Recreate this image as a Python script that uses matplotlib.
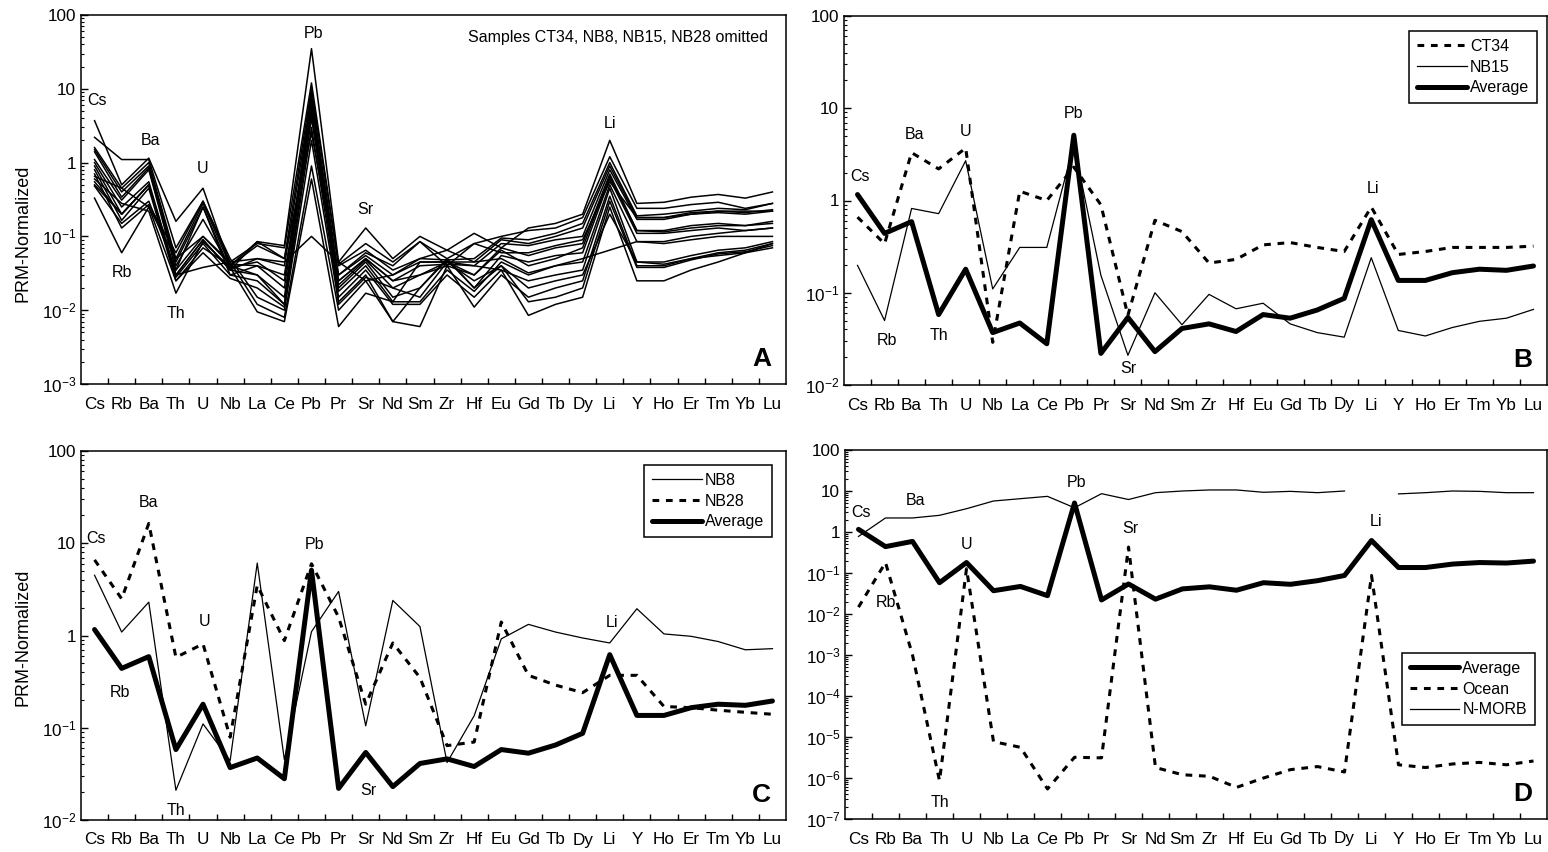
import numpy as np
import matplotlib
matplotlib.use('Agg')
import matplotlib.pyplot as plt
from matplotlib.ticker import LogLocator, FuncFormatter, NullFormatter, FixedLocator

plt.rcParams['font.family'] = ['Liberation Sans', 'DejaVu Sans']
plt.rcParams['mathtext.default'] = 'regular'

nan = np.nan
elements = ['Cs', 'Rb', 'Ba', 'Th', 'U', 'Nb', 'La', 'Ce', 'Pb', 'Pr', 'Sr', 'Nd', 'Sm',
            'Zr', 'Hf', 'Eu', 'Gd', 'Tb', 'Dy', 'Li', 'Y', 'Ho', 'Er', 'Tm', 'Yb', 'Lu']

# Panel A: individual samples (CT34, NB8, NB15, NB28 omitted)
a01 = [3.7, 0.50, 1.15, 0.16, 0.45, 0.040, 0.085, 0.075, 35, 0.045, 0.13, 0.050, 0.10, 0.065, 0.11, 0.070, 0.13, 0.15, 0.20, 2.0, 0.28, 0.29, 0.34, 0.37, 0.33, 0.40]
a02 = [2.2, 1.10, 1.10, 0.07, 0.30, 0.045, 0.080, 0.070, 12, 0.042, 0.080, 0.045, 0.085, 0.050, 0.080, 0.100, 0.12, 0.13, 0.18, 1.2, 0.24, 0.24, 0.27, 0.29, 0.24, 0.28]
a03 = [1.6, 0.45, 1.00, 0.05, 0.28, 0.040, 0.075, 0.050, 10, 0.040, 0.065, 0.035, 0.050, 0.048, 0.050, 0.095, 0.09, 0.11, 0.15, 1.0, 0.19, 0.20, 0.22, 0.24, 0.23, 0.28]
a04 = [1.5, 0.40, 0.90, 0.045, 0.25, 0.035, 0.050, 0.040, 8, 0.030, 0.055, 0.030, 0.045, 0.045, 0.045, 0.090, 0.08, 0.10, 0.13, 0.9, 0.18, 0.18, 0.21, 0.22, 0.21, 0.23]
a05 = [1.4, 0.34, 0.85, 0.040, 0.17, 0.038, 0.045, 0.025, 7, 0.025, 0.050, 0.025, 0.040, 0.042, 0.040, 0.080, 0.075, 0.09, 0.10, 0.8, 0.17, 0.17, 0.20, 0.21, 0.20, 0.22]
a06 = [1.1, 0.31, 0.80, 0.035, 0.10, 0.042, 0.040, 0.020, 6, 0.022, 0.048, 0.020, 0.030, 0.040, 0.030, 0.070, 0.055, 0.07, 0.08, 0.7, 0.12, 0.12, 0.14, 0.15, 0.14, 0.16]
a07 = [1.0, 0.25, 0.55, 0.030, 0.09, 0.035, 0.030, 0.015, 5, 0.020, 0.045, 0.015, 0.020, 0.048, 0.020, 0.055, 0.045, 0.055, 0.06, 0.6, 0.11, 0.11, 0.12, 0.13, 0.12, 0.13]
a08 = [0.9, 0.20, 0.50, 0.028, 0.08, 0.030, 0.025, 0.012, 4, 0.018, 0.040, 0.013, 0.013, 0.035, 0.018, 0.045, 0.030, 0.040, 0.045, 0.5, 0.085, 0.080, 0.09, 0.10, 0.10, 0.10]
a09 = [0.8, 0.165, 0.45, 0.025, 0.06, 0.027, 0.020, 0.011, 3, 0.015, 0.035, 0.012, 0.012, 0.030, 0.015, 0.035, 0.025, 0.030, 0.035, 0.45, 0.045, 0.045, 0.055, 0.065, 0.07, 0.085]
a10 = [0.7, 0.13, 0.27, 0.060, 0.30, 0.050, 0.015, 0.010, 2, 0.013, 0.030, 0.007, 0.006, 0.040, 0.011, 0.030, 0.015, 0.020, 0.025, 0.35, 0.040, 0.040, 0.050, 0.060, 0.065, 0.080]
a11 = [0.65, 0.45, 0.25, 0.050, 0.10, 0.045, 0.012, 0.008, 0.9, 0.010, 0.025, 0.007, 0.020, 0.050, 0.020, 0.040, 0.013, 0.015, 0.020, 0.30, 0.038, 0.038, 0.048, 0.058, 0.062, 0.075]
a12 = [0.6, 0.28, 0.22, 0.017, 0.085, 0.038, 0.0095, 0.007, 0.6, 0.006, 0.017, 0.013, 0.045, 0.045, 0.040, 0.035, 0.0085, 0.012, 0.015, 0.25, 0.025, 0.025, 0.035, 0.045, 0.060, 0.080]
a13 = [0.55, 0.20, 0.50, 0.030, 0.038, 0.045, 0.050, 0.045, 0.10, 0.045, 0.025, 0.030, 0.050, 0.065, 0.045, 0.050, 0.032, 0.040, 0.050, nan, 0.085, 0.085, 0.10, 0.11, 0.12, 0.13]
a14 = [0.5, 0.20, 0.50, 0.030, 0.09, 0.035, 0.085, 0.050, 2.5, 0.030, 0.060, 0.040, 0.085, 0.040, 0.080, 0.060, 0.060, 0.075, 0.09, 0.55, 0.18, 0.18, 0.20, 0.22, 0.22, 0.22]
a15 = [0.48, 0.15, 0.30, 0.035, 0.25, 0.030, 0.040, 0.030, 4.5, 0.025, 0.050, 0.025, 0.030, 0.045, 0.030, 0.065, 0.040, 0.050, 0.07, 0.65, 0.12, 0.115, 0.13, 0.14, 0.14, 0.15]
a16 = [0.33, 0.06, 0.25, 0.025, 0.07, 0.040, 0.030, 0.012, 9, 0.012, 0.028, 0.020, 0.015, 0.045, 0.025, 0.040, 0.020, 0.025, 0.03, 0.2, 0.045, 0.042, 0.050, 0.055, 0.060, 0.070]
panel_a_samples = [a01, a02, a03, a04, a05, a06, a07, a08, a09, a10, a11, a12, a13, a14, a15, a16]

average = [1.16, 0.44, 0.59, 0.058, 0.18, 0.037, 0.047, 0.028, 5.1, 0.022, 0.054, 0.023, 0.041, 0.046, 0.038, 0.058, 0.053, 0.065, 0.087, 0.62, 0.136, 0.136, 0.165, 0.18, 0.175, 0.195]
ct34 = [0.66, 0.34, 3.3, 2.2, 3.7, 0.029, 1.26, 1.0, 2.3, 0.9, 0.057, 0.61, 0.46, 0.21, 0.23, 0.33, 0.35, 0.31, 0.28, 0.85, 0.26, 0.28, 0.31, 0.31, 0.31, 0.32]
nb15 = [0.198, 0.05, 0.82, 0.72, 2.7, 0.11, 0.31, 0.31, 4.0, 0.155, 0.021, 0.10, 0.045, 0.096, 0.067, 0.077, 0.046, 0.037, 0.033, 0.24, 0.039, 0.034, 0.042, 0.049, 0.053, 0.066]
nb8 = [4.5, 1.09, 2.3, 0.021, 0.11, 0.044, 6.1, 0.045, 1.1, 3.0, 0.105, 2.4, 1.25, 0.042, 0.135, 0.92, 1.32, 1.09, 0.94, 0.83, 1.95, 1.04, 0.98, 0.86, 0.70, 0.72]
nb28 = [6.6, 2.5, 16.4, 0.58, 0.81, 0.079, 3.5, 0.88, 6.0, 1.58, 0.18, 0.83, 0.35, 0.064, 0.07, 1.4, 0.37, 0.29, 0.24, 0.37, 0.37, 0.17, 0.165, 0.155, 0.147, 0.14]
ocean = [0.0147, 0.18, 1.0e-3, 8.6e-7, 0.127, 7.7e-6, 5.6e-6, 5.4e-7, 3.2e-6, 3.1e-6, 0.43, 1.8e-6, 1.2e-6, 1.1e-6, 5.9e-7, 1.0e-6, 1.6e-6, 1.9e-6, 1.4e-6, 0.087, 2.1e-6, 1.8e-6, 2.2e-6, 2.4e-6, 2.1e-6, 2.6e-6]
nmorb = [0.78, 2.2, 2.2, 2.55, 3.7, 5.7, 6.5, 7.4, 3.9, 8.6, 6.2, 9.1, 10.0, 10.6, 10.6, 9.3, 9.8, 9.1, 10.0, nan, 8.5, 9.1, 10.0, 9.8, 9.1, 9.1]

# element annotations per panel: (label, x position, y value)
labels_a = [('Cs', 1.1, 6.9), ('Rb', 2.0, 0.032), ('Ba', 3.05, 2.0), ('Th', 4.0, 0.0089),
            ('U', 5.0, 0.83), ('Pb', 9.06, 57), ('Sr', 11.0, 0.23), ('Li', 20.0, 3.4)]
labels_b = [('Cs', 1.1, 1.82), ('Rb', 2.07, 0.030), ('Ba', 3.1, 5.2), ('Th', 4.0, 0.034),
            ('U', 5.0, 5.6), ('Pb', 9.0, 8.7), ('Sr', 11.0, 0.015), ('Li', 20.05, 1.35)]
labels_c = [('Cs', 1.05, 11.3), ('Rb', 1.95, 0.24), ('Ba', 3.0, 27.9), ('Th', 4.0, 0.0128),
            ('U', 5.05, 1.42), ('Pb', 9.1, 9.8), ('Sr', 11.1, 0.0207), ('Li', 20.1, 1.38)]
labels_d = [('Cs', 1.1, 3.05), ('Rb', 2.0, 0.019), ('Ba', 3.1, 6.0), ('Th', 4.0, 2.5e-7),
            ('U', 5.0, 0.5), ('Pb', 9.07, 16.5), ('Sr', 11.05, 1.23), ('Li', 20.15, 1.8)]

W, H = 1548, 852
fig = plt.figure(figsize=(W / 100, H / 100), dpi=100)


def px_axes(l, t, r, b):
    return fig.add_axes([l / W, 1 - b / H, (r - l) / W, (b - t) / H])


x = np.arange(1, len(elements) + 1)
TICK_FS = 12.3
ANN_FS = 11.5


def fmt(v, pos):
    e = int(round(np.log10(v)))
    if e >= 0:
        return str(int(round(10 ** e)))
    return r'$10^{%d}$' % e


def style_axes(ax, ymin, ymax):
    ax.set_yscale('log')
    ax.set_xlim(0.5, len(elements) + 0.5)
    ax.set_ylim(ymin, ymax)
    ax.set_xticks(x)
    ax.set_xticklabels(elements, fontsize=TICK_FS)
    ax.xaxis.set_minor_locator(FixedLocator(np.arange(1.5, len(elements), 1.0)))
    ax.tick_params(axis='x', which='major', length=0, pad=9.0)
    ax.tick_params(axis='x', which='minor', direction='in', length=4, width=1.0)
    ax.yaxis.set_major_locator(LogLocator(base=10, numticks=30))
    ax.yaxis.set_minor_locator(LogLocator(base=10, subs=np.arange(2, 10), numticks=200))
    ax.yaxis.set_major_formatter(FuncFormatter(fmt))
    ax.yaxis.set_minor_formatter(NullFormatter())
    ax.tick_params(axis='y', which='major', direction='in', length=5, width=1.0,
                   labelsize=TICK_FS, pad=3.5)
    ax.tick_params(axis='y', which='minor', direction='in', length=2.5, width=0.8)
    ax.tick_params(top=False, right=False, which='both')
    for s in ax.spines.values():
        s.set_linewidth(1.1)


def annotate(ax, labs):
    for t, xx, yy in labs:
        ax.text(xx, yy, t, fontsize=ANN_FS, ha='center', va='center')


def letter(ax, s):
    ax.text(0.979, 0.05, s, transform=ax.transAxes, fontsize=19, fontweight='bold',
            ha='right', va='baseline')


thick = dict(color='black', lw=3.6, solid_joinstyle='round', solid_capstyle='round')
thin = dict(color='black', lw=0.9)
dotted = dict(color='black', lw=2.2, linestyle=(0, (2.2, 2.2)), dash_capstyle='butt')


def legend(ax, handles, names, anchor):
    lg = ax.legend(handles, names, loc='upper right', bbox_to_anchor=anchor,
                   borderaxespad=0, fontsize=ANN_FS, handlelength=3.1, handletextpad=0.2,
                   labelspacing=0.36, borderpad=0.5, fancybox=False, framealpha=1,
                   edgecolor='black')
    lg.get_frame().set_linewidth(1.1)


# Panel A
axA = px_axes(81, 15, 786, 384)
style_axes(axA, 1e-3, 100)
for s in panel_a_samples:
    v = np.array(s, dtype=float)
    m = np.isfinite(v)
    axA.plot(x[m], v[m], color='black', lw=1.1)
annotate(axA, labels_a)
axA.text(0.762, 0.94, 'Samples CT34, NB8, NB15, NB28 omitted', transform=axA.transAxes,
         fontsize=ANN_FS, ha='center', va='center')
letter(axA, 'A')

# Panel B
axB = px_axes(844, 16, 1547, 385)
style_axes(axB, 1e-2, 100)
lb1, = axB.plot(x, ct34, **dotted)
lb2, = axB.plot(x, nb15, **thin)
lb3, = axB.plot(x, average, **thick)
annotate(axB, labels_b)
letter(axB, 'B')
legend(axB, [lb1, lb2, lb3], ['CT34', 'NB15', 'Average'], (1 - 10 / 703, 1 - 15 / 369))

# Panel C
axC = px_axes(81, 451, 786, 820)
style_axes(axC, 1e-2, 100)
lc1, = axC.plot(x, nb8, **thin)
lc2, = axC.plot(x, nb28, **dotted)
lc3, = axC.plot(x, average, **thick)
annotate(axC, labels_c)
letter(axC, 'C')
legend(axC, [lc1, lc2, lc3], ['NB8', 'NB28', 'Average'], (1 - 14 / 705, 1 - 14 / 369))

# Panel D
axD = px_axes(845, 450, 1547, 819)
style_axes(axD, 1e-7, 100)
ld3, = axD.plot(x, nmorb, **thin)
ld2, = axD.plot(x, ocean, **dotted)
ld1, = axD.plot(x, average, **thick)
annotate(axD, labels_d)
letter(axD, 'D')
legend(axD, [ld1, ld2, ld3], ['Average', 'Ocean', 'N-MORB'], (1 - 12 / 702, 1 - 203 / 369))

# y-axis labels
fig.text(23.5 / W, 1 - 233 / H, 'PRM-Normalized', rotation=90, fontsize=13,
         ha='center', va='center')
fig.text(23.5 / W, 1 - 637 / H, 'PRM-Normalized', rotation=90, fontsize=13,
         ha='center', va='center')

fig.savefig('out.png', dpi=100)
